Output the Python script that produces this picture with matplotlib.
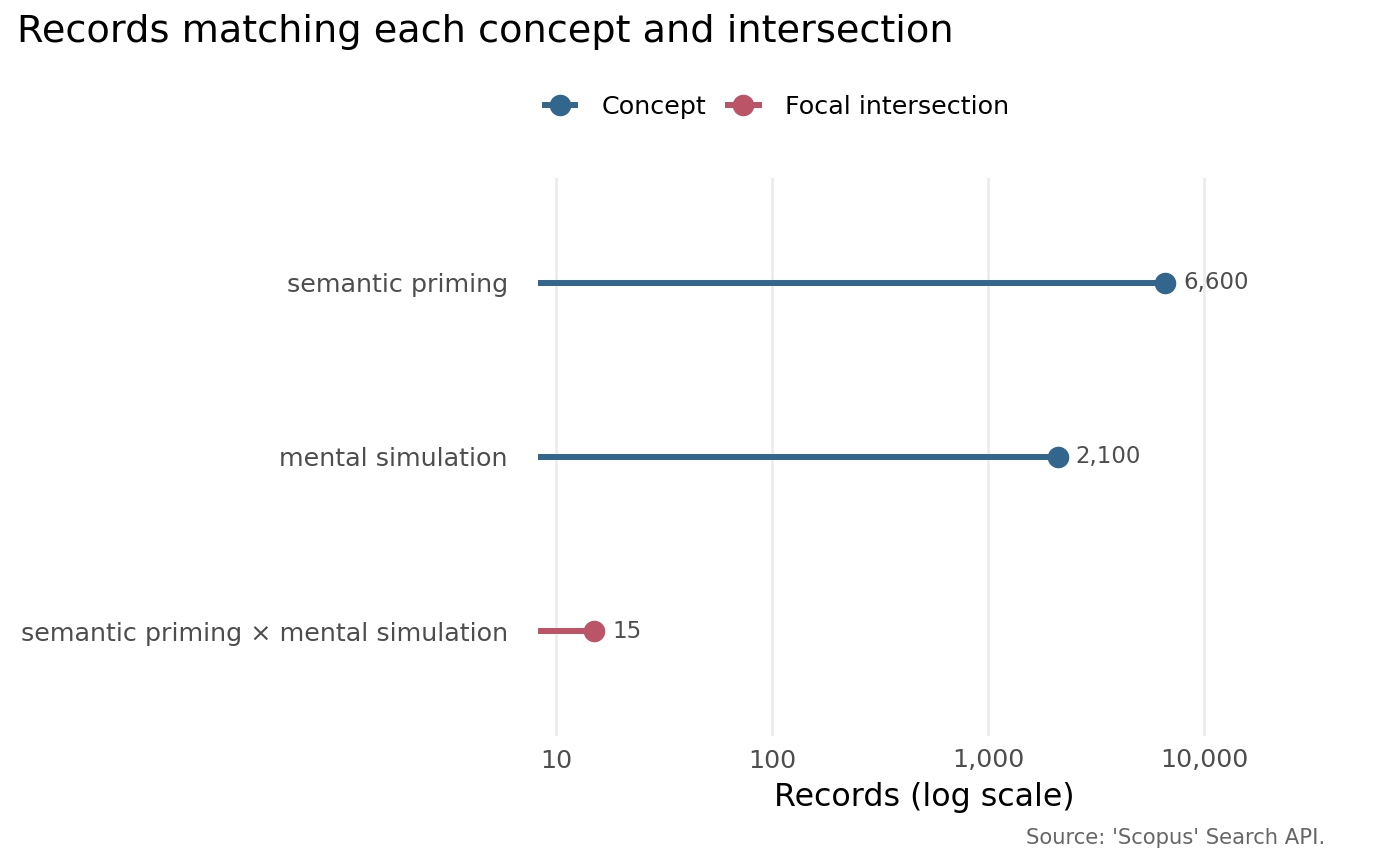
import numpy as np
import matplotlib.pyplot as plt
from matplotlib.lines import Line2D
from matplotlib.ticker import FixedLocator, NullLocator

# data
labels = ["semantic priming", "mental simulation", "semantic priming \u00d7 mental simulation"]
records = [6600, 2100, 15]
kinds = ["Concept", "Concept", "Focal intersection"]
seg_start = 8.26
tick_vals = [10, 100, 1000, 10000]
tick_text = ["10", "100", "1,000", "10,000"]

colors = {"Concept": "#33668C", "Focal intersection": "#BA5466"}
txt_grey = "#4d4d4d"

plt.rcParams['font.family'] = ['DejaVu Sans']

fig = plt.figure(figsize=(14, 8.66), dpi=100)
ax = fig.add_axes([530 / 1400, 1 - 736 / 866, (1318 - 530) / 1400, (736 - 178) / 866])

ypos = [3, 2, 1]
for y, val, k in zip(ypos, records, kinds):
    c = colors[k]
    ax.plot([seg_start, val], [y, y], color=c, lw=4.3, solid_capstyle='butt', zorder=3)
    ax.plot([val], [y], 'o', color=c, ms=14.5, zorder=4)
    ax.annotate(f"{val:,}", (val, y), xytext=(13, 0), textcoords='offset points',
                va='center', ha='left', fontsize=16.5, color=txt_grey)

ax.set_xscale('log')
ax.set_xlim(7.58, 33650)
ax.set_ylim(0.4, 3.6)
ax.xaxis.set_major_locator(FixedLocator(tick_vals))
ax.xaxis.set_minor_locator(NullLocator())
ax.set_xticklabels(tick_text)
ax.set_yticks(ypos)
ax.set_yticklabels(labels)
ax.tick_params(axis='both', length=0, labelsize=18.3, labelcolor=txt_grey)
ax.tick_params(axis='y', labelsize=18.3, pad=16)
ax.tick_params(axis='x', pad=9)
ax.grid(axis='x', color='#ebebeb', lw=1.8)
ax.grid(axis='y', visible=False)
ax.set_axisbelow(True)
for s in ax.spines.values():
    s.set_visible(False)

ax.set_xlabel("Records (log scale)", fontsize=22.8, color='black', labelpad=7)

fig.text(17 / 1400, 1 - 32 / 866, "Records matching each concept and intersection",
         fontsize=27.5, ha='left', va='center', color='black')
fig.text(1325 / 1400, 1 - 838 / 866, "Source: 'Scopus' Search API.",
         fontsize=15.2, ha='right', va='center', color='#666666')

handles = [Line2D([0], [0], color=colors[k], lw=4.3, marker='o', ms=14.5) for k in colors]
fig.legend(handles, list(colors.keys()), loc='center', bbox_to_anchor=(777 / 1400, 1 - 107 / 866),
           ncol=2, frameon=False, fontsize=18.3, handlelength=1.2, columnspacing=0.85,
           handletextpad=1.05)

fig.savefig('out.png', dpi=100)
